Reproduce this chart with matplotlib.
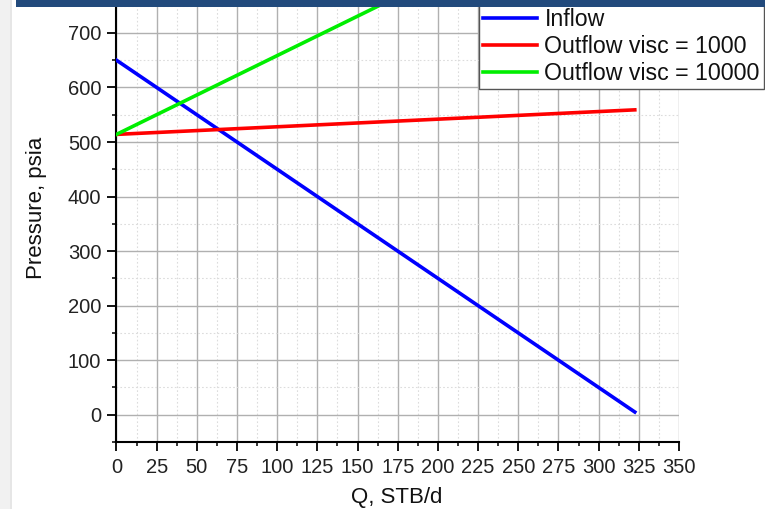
import matplotlib
matplotlib.use("Agg")
import matplotlib.pyplot as plt
from matplotlib.patches import Rectangle
from matplotlib.ticker import MultipleLocator

plt.rcParams['font.family'] = ['Liberation Sans', 'DejaVu Sans']

# Data
q_inflow = [0, 322.5]
p_inflow = [650, 5]
q_outflow = [0, 322.5]
p_out_1000 = [514, 559]
p_out_10000 = [514, 980]
labels = ["Inflow", "Outflow visc = 1000", "Outflow visc = 10000"]
colors = ["#0000ff", "#ff0000", "#00ee00"]

W, H = 765, 509
fig = plt.figure(figsize=(W / 100, H / 100), dpi=100)

# axes placement (pixel based)
left_px, right_px = 116.5, 679
bottom_px, top_px = 442, -21.6
ax = fig.add_axes([left_px / W, (H - bottom_px) / H,
                   (right_px - left_px) / W, (bottom_px - top_px) / H])

ax.plot(q_inflow, p_inflow, color=colors[0], lw=2.6, label=labels[0], zorder=3)
ax.plot(q_outflow, p_out_1000, color=colors[1], lw=2.6, label=labels[1], zorder=3)
ax.plot(q_outflow, p_out_10000, color=colors[2], lw=2.6, label=labels[2], zorder=3)

ax.set_xlim(0, 350)
ax.set_ylim(-50, 800)

ax.xaxis.set_major_locator(MultipleLocator(25))
ax.xaxis.set_minor_locator(MultipleLocator(12.5))
ax.set_yticks([0, 100, 200, 300, 400, 500, 600, 700])
ax.set_yticks([-50, 50, 150, 250, 350, 450, 550, 650, 750], minor=True)

ax.grid(which='major', color='#b0b0b0', lw=1.0, ls='-', zorder=0)
ax.grid(which='minor', color='#dcdcdc', lw=0.8, ls=(0, (1.5, 2)), zorder=0)
ax.set_axisbelow(True)

for s in ['top', 'right']:
    ax.spines[s].set_visible(False)
for s in ['left', 'bottom']:
    ax.spines[s].set_linewidth(1.5)
    ax.spines[s].set_color('black')

ax.tick_params(which='major', direction='out', length=6.5, width=1.3,
               labelsize=14.5, colors='black', labelcolor='#222222')
ax.tick_params(axis='y', which='major', pad=4.5)
ax.tick_params(axis='x', which='major', pad=5)
ax.tick_params(which='minor', direction='out', length=3.2, width=1.1, colors='black')

ax.set_xlabel("Q, STB/d", fontsize=16, color='#111111')
ax.set_ylabel("Pressure, psia", fontsize=16, color='#111111')
ax.xaxis.set_label_coords((397 - left_px) / (right_px - left_px),
                          -(487 - bottom_px) / (bottom_px - top_px))
ax.yaxis.set_label_coords(-(116.5 - 47) / (right_px - left_px),
                          (bottom_px - 208) / (bottom_px - top_px))

leg = fig.legend(loc='upper right', bbox_to_anchor=(764 / W, 1 - 4 / H),
                 fontsize=16.7, frameon=True, fancybox=False, framealpha=1,
                 edgecolor='#555555', labelspacing=0.17, handlelength=2.35,
                 handletextpad=0.3, borderpad=0.18, borderaxespad=0)
leg.get_frame().set_linewidth(1.0)
for t in leg.get_texts():
    t.set_color('#111111')

# decorations: top bar and left stripe
fig.patches.append(Rectangle((16 / W, 1 - 7 / H), 1, 7 / H, transform=fig.transFigure,
                             facecolor='#224a7c', edgecolor='none', zorder=10))
fig.patches.append(Rectangle((0, 0), 12 / W, 1, transform=fig.transFigure,
                             facecolor='#f1f1f1', edgecolor='none', zorder=10))
fig.patches.append(Rectangle((10 / W, 0), 2 / W, 1, transform=fig.transFigure,
                             facecolor='#e6e6e6', edgecolor='none', zorder=10))

fig.savefig("out.png", dpi=100)
